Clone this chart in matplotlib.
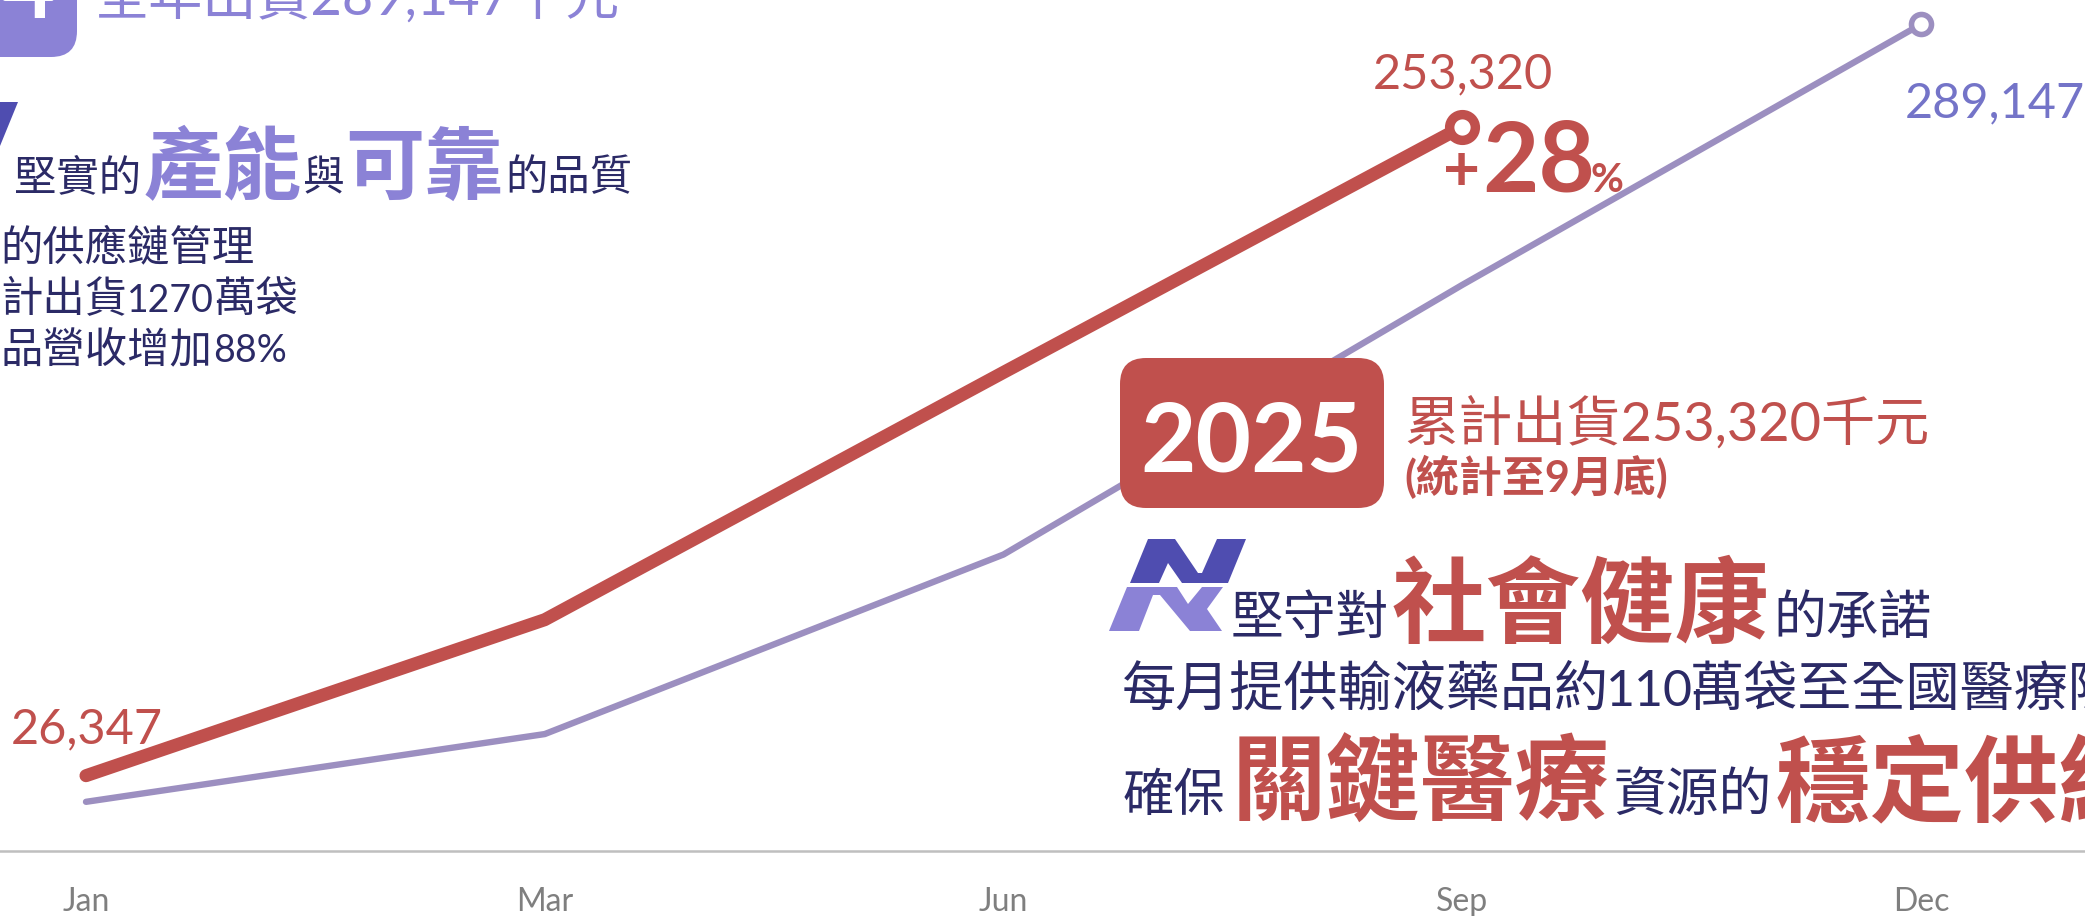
import matplotlib
matplotlib.use("Agg")
import matplotlib.pyplot as plt
from matplotlib.patches import FancyBboxPatch, Polygon

W, H = 2085, 916
FONT = ['Lato', 'Noto Sans CJK TC', 'DejaVu Sans']
plt.rcParams['font.family'] = FONT

months = ['Jan', 'Mar', 'Jun', 'Sep', 'Dec']
sales_2025 = [26347, 80900, 167400, 253320]
sales_2024 = [17200, 40900, 103700, 198000, 289147]

RED = '#C0504D'
PURPLE = '#9C8FC0'
LAV = '#8B82D6'
NAVY = '#2B2A66'
BLUE = '#7474C8'
DARK = '#4F4DB0'

fig = plt.figure(figsize=(W / 100, H / 100), dpi=100, facecolor='white')
axis_y = 851
ax = fig.add_axes([0, (H - axis_y) / H, 1, axis_y / H])
x_step = (1921 - 86) / 4
ax.set_xlim(-86 / x_step, (W - 86) / x_step)
ax.set_ylim(0, 297650)
for s in ['top', 'left', 'right']:
    ax.spines[s].set_visible(False)
ax.spines['bottom'].set_color('#BFBFBF')
ax.spines['bottom'].set_linewidth(1.8)
ax.set_yticks([])
ax.set_xticks(range(len(months)))
ax.set_xticklabels(months, fontsize=23, color='#7F7F7F')
ax.tick_params(axis='x', length=0, pad=26)

ax.plot(range(5), sales_2024, color=PURPLE, lw=4.6, solid_capstyle='round', solid_joinstyle='round', zorder=2)
ax.plot(4, sales_2024[-1], 'o', mfc='white', mec=PURPLE, ms=14.4, mew=4, zorder=3)
ax.plot(range(4), sales_2025, color=RED, lw=9.4, solid_capstyle='round', solid_joinstyle='round', zorder=4)
ax.plot(3, sales_2025[-1], 'o', mfc='white', mec=RED, ms=18.5, mew=6.8, zorder=5)

ax.annotate(f'{sales_2025[0]:,}', (0, sales_2025[0]), xytext=(1, 32), textcoords='offset pixels',
            ha='center', va='baseline', fontsize=35, color=RED, zorder=6)
ax.annotate(f'{sales_2025[3]:,}', (3, sales_2025[3]), xytext=(1, 38), textcoords='offset pixels',
            ha='center', va='baseline', fontsize=35, color=RED, zorder=6)
ax.annotate(f'{sales_2024[4]:,}', (4, sales_2024[4]), xytext=(74, -93), textcoords='offset pixels',
            ha='center', va='baseline', fontsize=35, color=BLUE, zorder=6)

# overlay in pixel coordinates for callouts
ov = fig.add_axes([0, 0, 1, 1], facecolor='none', zorder=10)
ov.set_xlim(0, W)
ov.set_ylim(H, 0)
ov.axis('off')


def T(x, y, s, size, color=NAVY, weight='normal', ha='left'):
    ov.text(x, y, s, fontsize=size, color=color, fontweight=weight, ha=ha, va='baseline', clip_on=True)


def box(x0, y0, x1, y1, color):
    r = 26
    ov.add_patch(FancyBboxPatch((x0 + r, y0 + r), x1 - x0 - 2 * r, y1 - y0 - 2 * r,
                                boxstyle=f'round,pad={r},rounding_size={r}', fc=color, ec='none'))


TOP_N = [(1148, 539), (1175, 539), (1198, 573), (1202, 573), (1217, 539), (1246, 539), (1228, 583),
         (1182, 583), (1168, 563), (1159, 583), (1130, 583)]
BOT_N = [(1127, 587), (1177, 587), (1188, 604), (1202, 587), (1223, 587), (1207, 609), (1222, 631),
         (1190, 631), (1160, 595), (1153, 595), (1139, 631), (1109, 631)]


def logo(dx=0, dy=0):
    ov.add_patch(Polygon([(a + dx, b + dy) for a, b in TOP_N], fc=DARK, ec='none'))
    ov.add_patch(Polygon([(a + dx, b + dy) for a, b in BOT_N], fc=LAV, ec='none'))


# 2024 block, cropped by the top edge
box(-150, -100, 77, 57, LAV)
T(57, 17, '2024', 69, 'white', 'bold', ha='right')
T(95, 16, '全年出貨289,147千元', 39, LAV)
logo(-1228, -437)
T(14, 190, '堅實的', 30.5)
T(144, 193, '產能', 57, LAV, 'bold')
T(303, 190, '與', 30)
T(345, 193, '可靠', 57, LAV, 'bold')
T(505, 190, '的品質', 30.5)
T(0, 260, '的供應鏈管理', 30.5)
T(0, 312, '計出貨', 30.5)
T(127, 312, '1270', 27)
T(214, 312, '萬袋', 30.5)
T(0, 362, '品營收增加', 30.5)
T(213, 362, '88%', 27)

# +28%
T(1443, 190, '+', 46, RED, 'bold')
T(1482, 192, '28', 70, RED, 'bold')
T(1590, 192, '%', 29, RED, 'bold')

# 2025 block
box(1120, 358, 1384, 508, RED)
T(1252, 471, '2025', 69, 'white', 'bold', ha='center')
T(1404, 441, '累計出貨253,320千元', 39, RED)
T(1404, 492, '(統計至9月底)', 31, RED, 'bold')
logo()
T(1231, 634, '堅守對', 38)
T(1392, 636, '社會健康', 68, RED, 'bold')
T(1773, 634, '的承諾', 38)
T(1122, 706, '每月提供輸液藥品約', 39)
T(1606, 706, '110', 36)
T(1690, 706, '萬袋至全國醫療院所', 39)
T(1123, 811, '確保', 37)
T(1232, 814, '關鍵醫療', 68, RED, 'bold')
T(1613, 811, '資源的', 38)
T(1776, 814, '穩定供給', 68, RED, 'bold')

fig.savefig('out.png', dpi=100, facecolor='white')
